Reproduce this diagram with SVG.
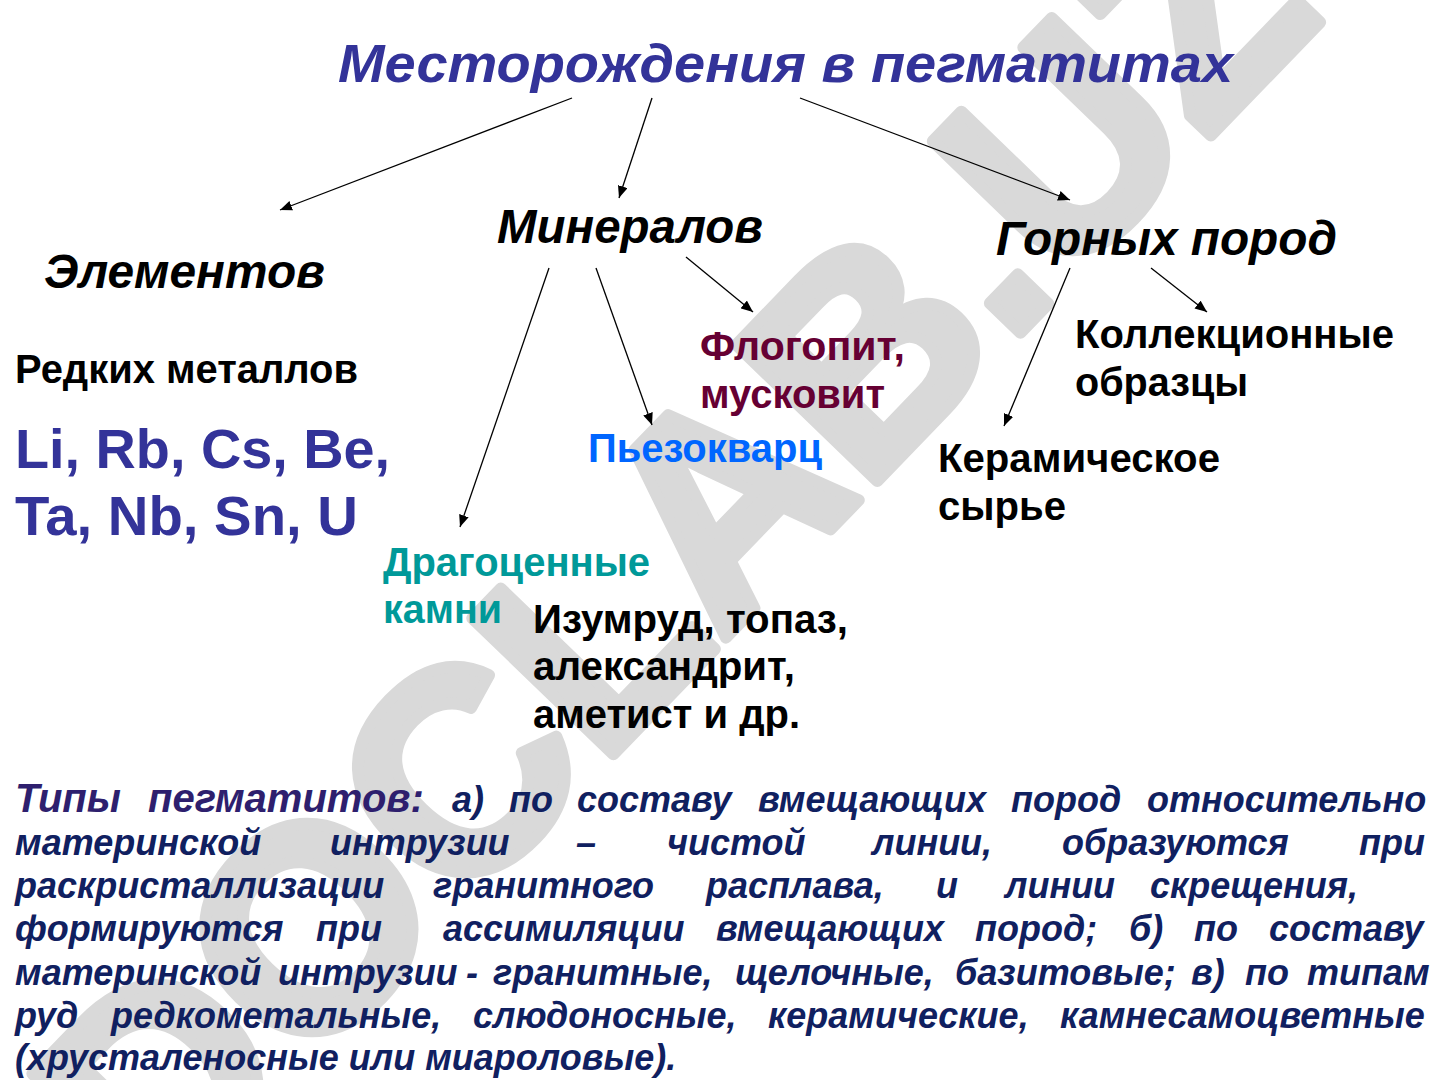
<svg xmlns="http://www.w3.org/2000/svg" width="1440" height="1080" viewBox="0 0 1440 1080">
<defs>
<marker id="ah" viewBox="0 0 12 10" refX="12" refY="5" markerWidth="12" markerHeight="10" markerUnits="userSpaceOnUse" orient="auto">
<path d="M0,0 L12,5 L0,10 z" fill="#000"/>
</marker>
<style>
text{font-family:"Liberation Sans",Arial,sans-serif;font-weight:bold}
.wm{fill:#d9d9d9;font-size:285px}
.title{fill:#333399;font-style:italic;font-size:54px}
.cat{fill:#000;font-style:italic;font-size:48px}
.lbl{fill:#000;font-size:40px}
.el{fill:#333399;font-size:56px}
.flog{fill:#660033;font-size:40px}
.piezo{fill:#0066ff;font-size:40px}
.gem{fill:#009999;font-size:40px}
.para{fill:#102060;font-style:italic;font-size:36px}
.para .hd{fill:#2e1f6e;font-size:40px}
.conn line{stroke:#000;stroke-width:1.3;marker-end:url(#ah)}
</style>
</defs>
<rect width="1440" height="1080" fill="#fff"/>
<text class="wm" transform="translate(743,620) rotate(-46)" text-anchor="middle" stroke="#d9d9d9" stroke-width="12" stroke-linejoin="round">DOCLAB.UZ</text>

<g id="title"><text class="title" x="338" y="82" textLength="895" lengthAdjust="spacingAndGlyphs">Месторождения в пегматитах</text></g>

<g id="connectors" class="conn">
<line x1="572" y1="98" x2="280" y2="210"/>
<line x1="652" y1="98" x2="619" y2="198"/>
<line x1="800" y1="98" x2="1070" y2="200"/>
<line x1="549" y1="268" x2="460" y2="527"/>
<line x1="596" y1="268" x2="652" y2="425"/>
<line x1="686" y1="257" x2="753" y2="312"/>
<line x1="1070" y1="268" x2="1004" y2="426"/>
<line x1="1151" y1="268" x2="1207" y2="312"/>
</g>

<g id="elements"><text class="cat" x="44" y="288" textLength="281" lengthAdjust="spacingAndGlyphs">Элементов</text></g>
<g id="minerals"><text class="cat" x="497" y="243" textLength="266" lengthAdjust="spacingAndGlyphs">Минералов</text></g>
<g id="rocks"><text class="cat" x="996" y="255" textLength="341" lengthAdjust="spacingAndGlyphs">Горных пород</text></g>

<g id="rare-metals"><text class="lbl" x="15" y="383" textLength="343" lengthAdjust="spacingAndGlyphs">Редких металлов</text></g>
<g id="element-list">
<text class="el" x="15" y="468" textLength="375" lengthAdjust="spacingAndGlyphs">Li, Rb, Cs, Be,</text>
<text class="el" x="15" y="535" textLength="343" lengthAdjust="spacingAndGlyphs">Ta, Nb, Sn, U</text>
</g>

<g id="phlogopite">
<text class="flog" x="700" y="360" textLength="205" lengthAdjust="spacingAndGlyphs">Флогопит,</text>
<text class="flog" x="700" y="408" textLength="185" lengthAdjust="spacingAndGlyphs">мусковит</text>
</g>
<g id="piezoquartz"><text class="piezo" x="588" y="462" textLength="234" lengthAdjust="spacingAndGlyphs">Пьезокварц</text></g>
<g id="gems">
<text class="gem" x="383" y="576" textLength="267" lengthAdjust="spacingAndGlyphs">Драгоценные</text>
<text class="gem" x="383" y="623" textLength="119" lengthAdjust="spacingAndGlyphs">камни</text>
</g>
<g id="gem-list">
<text class="lbl" x="533" y="633" textLength="315" lengthAdjust="spacingAndGlyphs">Изумруд, топаз,</text>
<text class="lbl" x="533" y="680" textLength="262" lengthAdjust="spacingAndGlyphs">александрит,</text>
<text class="lbl" x="533" y="728" textLength="267" lengthAdjust="spacingAndGlyphs">аметист и др.</text>
</g>
<g id="collection">
<text class="lbl" x="1075" y="348" textLength="319" lengthAdjust="spacingAndGlyphs">Коллекционные</text>
<text class="lbl" x="1075" y="396" textLength="173" lengthAdjust="spacingAndGlyphs">образцы</text>
</g>
<g id="ceramic">
<text class="lbl" x="938" y="472" textLength="282" lengthAdjust="spacingAndGlyphs">Керамическое</text>
<text class="lbl" x="938" y="520" textLength="128" lengthAdjust="spacingAndGlyphs">сырье</text>
</g>

<g id="types-text" class="para">
<text y="812"><tspan class="hd" x="15">Типы</tspan><tspan class="hd" x="148">пегматитов:</tspan><tspan x="452">а)</tspan><tspan x="509">по</tspan><tspan x="577">составу</tspan><tspan x="758">вмещающих</tspan><tspan x="1011">пород</tspan><tspan x="1147">относительно</tspan></text>
<text y="855"><tspan x="15">материнской</tspan><tspan x="330">интрузии</tspan><tspan x="576">–</tspan><tspan x="667">чистой</tspan><tspan x="872">линии,</tspan><tspan x="1062">образуются</tspan><tspan x="1359">при</tspan></text>
<text y="898"><tspan x="15">раскристаллизации</tspan><tspan x="433">гранитного</tspan><tspan x="706">расплава,</tspan><tspan x="936">и</tspan><tspan x="1005">линии</tspan><tspan x="1150">скрещения,</tspan></text>
<text y="941"><tspan x="15">формируются</tspan><tspan x="316">при</tspan><tspan x="443">ассимиляции</tspan><tspan x="716">вмещающих</tspan><tspan x="975">пород;</tspan><tspan x="1129">б)</tspan><tspan x="1194">по</tspan><tspan x="1269">составу</tspan></text>
<text y="985"><tspan x="15">материнской</tspan><tspan x="278">интрузии</tspan><tspan x="466">-</tspan><tspan x="493">гранитные,</tspan><tspan x="735">щелочные,</tspan><tspan x="955">базитовые;</tspan><tspan x="1191">в)</tspan><tspan x="1245">по</tspan><tspan x="1307">типам</tspan></text>
<text y="1028"><tspan x="15">руд</tspan><tspan x="111">редкометальные,</tspan><tspan x="473">слюдоносные,</tspan><tspan x="768">керамические,</tspan><tspan x="1060">камнесамоцветные</tspan></text>
<text y="1070"><tspan x="15">(хрусталеносные или миароловые).</tspan></text>
</g>
</svg>
